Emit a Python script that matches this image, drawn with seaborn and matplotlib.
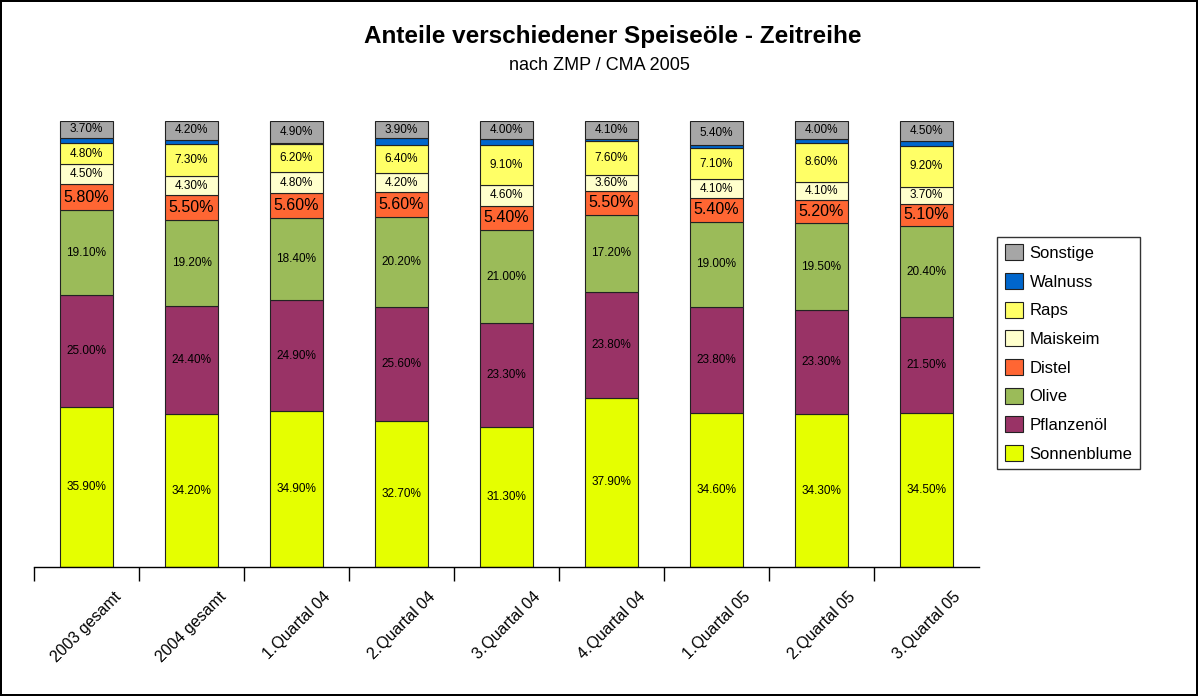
import numpy as np
import pandas as pd
import matplotlib
matplotlib.use('Agg')
import matplotlib.pyplot as plt
import seaborn as sns

sns.set_style('white')
plt.rcParams['font.family'] = ['Liberation Sans', 'DejaVu Sans']
plt.rcParams['text.color'] = 'black'
plt.rcParams['xtick.color'] = 'black'

perioden = ['2003 gesamt', '2004 gesamt', '1.Quartal 04', '2.Quartal 04', '3.Quartal 04',
            '4.Quartal 04', '1.Quartal 05', '2.Quartal 05', '3.Quartal 05']

sonnenblume = [35.9, 34.2, 34.9, 32.7, 31.3, 37.9, 34.6, 34.3, 34.5]
pflanzenoel = [25.0, 24.4, 24.9, 25.6, 23.3, 23.8, 23.8, 23.3, 21.5]
olive = [19.1, 19.2, 18.4, 20.2, 21.0, 17.2, 19.0, 19.5, 20.4]
distel = [5.8, 5.5, 5.6, 5.6, 5.4, 5.5, 5.4, 5.2, 5.1]
maiskeim = [4.5, 4.3, 4.8, 4.2, 4.6, 3.6, 4.1, 4.1, 3.7]
raps = [4.8, 7.3, 6.2, 6.4, 9.1, 7.6, 7.1, 8.6, 9.2]
walnuss = [1.2, 0.9, 0.3, 1.4, 1.3, 0.3, 0.6, 1.0, 1.1]
sonstige = [3.7, 4.2, 4.9, 3.9, 4.0, 4.1, 5.4, 4.0, 4.5]

serien = [
    ('Sonnenblume', sonnenblume, '#E5FF00', True),
    ('Pflanzenöl', pflanzenoel, '#993366', True),
    ('Olive', olive, '#9BBB59', True),
    ('Distel', distel, '#FF6633', True),
    ('Maiskeim', maiskeim, '#FFFFCC', True),
    ('Raps', raps, '#FFFF66', True),
    ('Walnuss', walnuss, '#0066CC', False),
    ('Sonstige', sonstige, '#A6A6A6', True),
]

fig = plt.figure(figsize=(11.98, 6.96), dpi=100)
fig.patch.set_edgecolor('black')
fig.patch.set_linewidth(1.5)
ax = fig.add_axes([34 / 1198, 1 - 567 / 696, 945 / 1198, 446 / 696])

unten = np.zeros(len(perioden))
for name, werte, farbe, beschriften in serien:
    df = pd.DataFrame({'periode': perioden, 'wert': werte})
    sns.barplot(data=df, x='periode', y='wert', bottom=unten, color=farbe,
                saturation=1, width=0.5, edgecolor='#222222', linewidth=0.8,
                label=name, ax=ax)
    if beschriften:
        for i, v in enumerate(werte):
            gross = name == 'Distel'
            ax.text(i, unten[i] + v / 2, f'{v:.2f}%', ha='center', va='center',
                    fontsize=11.5 if gross else 8.5, color='black')
    unten = unten + np.array(werte)

ax.set_xlim(-0.5, 8.5)
ax.set_ylim(0, 100)
ax.set_xlabel('')
ax.set_ylabel('')
ax.set_yticks([])
for s in ['top', 'right', 'left']:
    ax.spines[s].set_visible(False)
ax.spines['bottom'].set_color('black')
ax.spines['bottom'].set_linewidth(1)

ax.set_xticks(range(len(perioden)))
ax.set_xticklabels(perioden, rotation=45, ha='center', va='top', fontsize=11.5)
ax.tick_params(axis='x', which='major', length=0, pad=16)
ax.set_xticks(np.arange(-0.5, 8.0, 1.0), minor=True)
ax.tick_params(axis='x', which='minor', length=10, width=1, color='black',
               direction='out', bottom=True)

handles, labels = ax.get_legend_handles_labels()
leg = ax.legend(handles[::-1], labels[::-1], loc='upper left',
                bbox_to_anchor=(997 / 1198, 1 - 237 / 696), bbox_transform=fig.transFigure,
                fontsize=12, frameon=True, fancybox=False, edgecolor='black',
                handlelength=1.1, handleheight=1.1, handletextpad=0.4,
                labelspacing=0.72, borderpad=0.45, borderaxespad=0)
leg.get_frame().set_linewidth(1)

fig.text(613 / 1198, 1 - 36 / 696, 'Anteile verschiedener Speiseöle - Zeitreihe',
         ha='center', va='center', fontsize=17.5, fontweight='bold')
fig.text(599 / 1198, 1 - 66 / 696, 'nach ZMP / CMA 2005',
         ha='center', va='center', fontsize=13)

fig.savefig('out.png', dpi=100)
